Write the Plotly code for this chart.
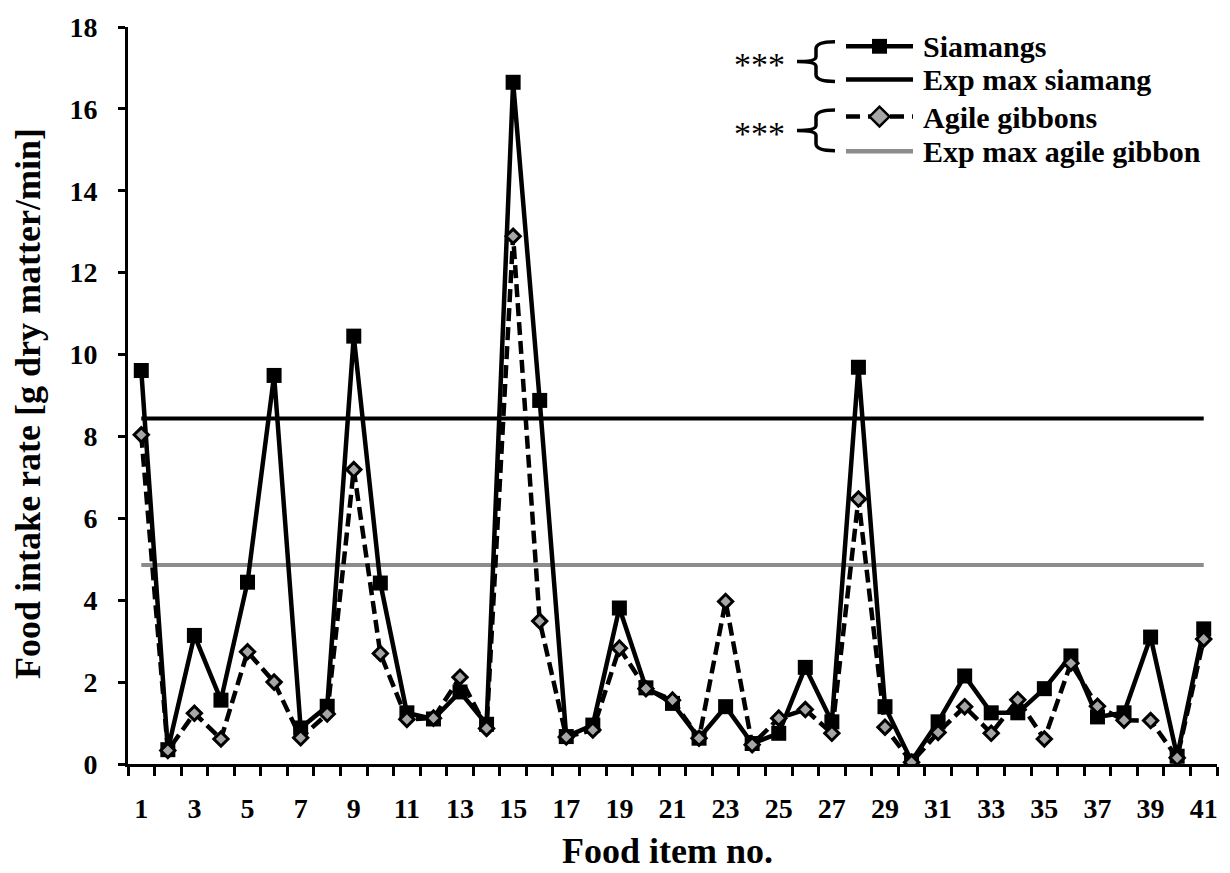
import plotly.graph_objects as go

# Food items 1..41
items = list(range(1, 42))

# Mean food intake rate (g dry matter / min) per food item
siamangs = [9.61, 0.35, 3.14, 1.56, 4.44, 9.49, 0.88, 1.41, 10.45, 4.42,
            1.25, 1.10, 1.76, 0.97, 16.65, 8.88, 0.67, 0.95, 3.81, 1.86,
            1.48, 0.63, 1.40, 0.50, 0.75, 2.36, 1.03, 9.69, 1.40, 0.07,
            1.03, 2.15, 1.25, 1.25, 1.84, 2.64, 1.15, 1.25, 3.10, 0.19, 3.30]
agile_gibbons = [8.04, 0.33, 1.24, 0.61, 2.74, 2.00, 0.64, 1.22, 7.19, 2.70,
                 1.09, 1.12, 2.12, 0.87, 12.89, 3.49, 0.66, 0.83, 2.83, 1.84,
                 1.56, 0.63, 3.97, 0.47, 1.12, 1.33, 0.75, 6.47, 0.90, 0.04,
                 0.77, 1.40, 0.75, 1.57, 0.61, 2.46, 1.41, 1.07, 1.06, 0.15, 3.05]

# Expected maximum intake rates
exp_max_siamang = 8.44
exp_max_agile_gibbon = 4.86

series_names = ["Siamangs", "Exp max siamang", "Agile gibbons", "Exp max agile gibbon"]
x_tick_labels = [str(i) for i in range(1, 42, 2)]
y_ticks = list(range(0, 19, 2))
x_title = "Food item no."
y_title = "Food intake rate [g dry matter/min]"

FONT = '"Liberation Serif", "Times New Roman", Times, serif'
GRAY_FILL = "#A6A6A6"
GRAY_LINE = "#8C8C8C"

W, H = 1230, 873
ML, MR, MT, MB = 128, 13, 19, 109
PW, PH = W - ML - MR, H - MT - MB


def px(xp):
    return (xp - ML) / PW


def py(yp):
    return (H - MB - yp) / PH


fig = go.Figure()

# expected maxima (drawn underneath the data series)
fig.add_trace(go.Scatter(
    x=[items[0], items[-1]], y=[exp_max_siamang] * 2, mode="lines",
    line=dict(color="black", width=4), name=series_names[1], showlegend=False))
fig.add_trace(go.Scatter(
    x=[items[0], items[-1]], y=[exp_max_agile_gibbon] * 2, mode="lines",
    line=dict(color=GRAY_LINE, width=4), name=series_names[3], showlegend=False))

fig.add_trace(go.Scatter(
    x=items, y=siamangs, mode="lines+markers", name=series_names[0],
    line=dict(color="black", width=4.5),
    marker=dict(symbol="square", size=15, color="black"),
    showlegend=False))
fig.add_trace(go.Scatter(
    x=items, y=agile_gibbons, mode="lines+markers", name=series_names[2],
    line=dict(color="black", width=4.5, dash="13px,6px"),
    marker=dict(symbol="diamond", size=11, color=GRAY_FILL,
                line=dict(color="black", width=3)),
    showlegend=False))

shapes = []
annotations = []

# hand-built legend
leg_x0, leg_x1 = 846, 913
leg_mid = (leg_x0 + leg_x1) / 2
rows_y = [38.5, 72, 109.5, 144.5]
text_y = [39, 72, 110, 145]

shapes.append(dict(type="line", xref="paper", yref="paper",
                   x0=px(leg_x0), x1=px(leg_x1), y0=py(rows_y[0]), y1=py(rows_y[0]),
                   line=dict(color="black", width=4.5)))
shapes.append(dict(type="rect", xref="paper", yref="paper",
                   x0=px(leg_mid - 7.5), x1=px(leg_mid + 7.5),
                   y0=py(rows_y[0] + 7.5), y1=py(rows_y[0] - 7.5),
                   fillcolor="black", line=dict(width=0)))
shapes.append(dict(type="line", xref="paper", yref="paper",
                   x0=px(leg_x0), x1=px(leg_x1), y0=py(rows_y[1]), y1=py(rows_y[1]),
                   line=dict(color="black", width=4.5)))
shapes.append(dict(type="line", xref="paper", yref="paper",
                   x0=px(leg_x0), x1=px(leg_x1), y0=py(rows_y[2]), y1=py(rows_y[2]),
                   line=dict(color="black", width=4.5, dash="14px,8px")))
d = 10
yd = rows_y[2]
shapes.append(dict(type="path", xref="paper", yref="paper",
                   path=(f"M{px(leg_mid - d)},{py(yd)} L{px(leg_mid)},{py(yd - d)} "
                         f"L{px(leg_mid + d)},{py(yd)} L{px(leg_mid)},{py(yd + d)} Z"),
                   fillcolor=GRAY_FILL, line=dict(color="black", width=2.5)))
shapes.append(dict(type="line", xref="paper", yref="paper",
                   x0=px(leg_x0), x1=px(leg_x1), y0=py(rows_y[3]), y1=py(rows_y[3]),
                   line=dict(color=GRAY_LINE, width=4.5)))

for name, ty in zip(series_names, text_y):
    annotations.append(dict(xref="paper", yref="paper", x=px(921), y=py(ty),
                            xanchor="left", yanchor="middle", showarrow=False,
                            text=name, font=dict(family=FONT, size=30, color="black",
                                                 weight="bold")))


def brace(top, bottom, xr=835, xv=816, xt=797):
    mid = (top + bottom) / 2
    pts = [
        f"M{px(xr)},{py(top)}",
        f"Q{px(xv)},{py(top)} {px(xv)},{py(top + 7)}",
        f"L{px(xv)},{py(mid - 5)}",
        f"Q{px(xv)},{py(mid)} {px(xt)},{py(mid)}",
        f"Q{px(xv)},{py(mid)} {px(xv)},{py(mid + 5)}",
        f"L{px(xv)},{py(bottom - 7)}",
        f"Q{px(xv)},{py(bottom)} {px(xr)},{py(bottom)}",
    ]
    return dict(type="path", xref="paper", yref="paper", path=" ".join(pts),
                line=dict(color="black", width=3.5))


shapes.append(brace(34, 74))
shapes.append(brace(103, 144))
for ty in (57, 127):
    annotations.append(dict(xref="paper", yref="paper", x=px(759), y=py(ty),
                            xanchor="center", yanchor="middle", showarrow=False,
                            text="***", font=dict(family=FONT, size=34, color="black")))

# axis titles
annotations.append(dict(xref="paper", yref="paper", x=px(667), y=py(851.5),
                        xanchor="center", yanchor="middle", showarrow=False,
                        text=x_title,
                        font=dict(family=FONT, size=36, color="black", weight="bold")))
annotations.append(dict(xref="paper", yref="paper", x=px(28.5), y=py(399.5),
                        xanchor="center", yanchor="middle", showarrow=False,
                        textangle=-90, text=y_title,
                        font=dict(family=FONT, size=36, color="black", weight="bold")))

fig.update_layout(
    width=W, height=H,
    margin=dict(l=ML, r=MR, t=MT, b=MB, pad=0),
    paper_bgcolor="white", plot_bgcolor="white",
    font=dict(family=FONT, color="black"),
    shapes=shapes, annotations=annotations,
    showlegend=False,
)

fig.update_xaxes(
    range=[0.5, 41.5], tickmode="array",
    tickvals=list(range(1, 42, 2)), ticktext=x_tick_labels,
    ticks="outside", ticklen=9, tickcolor="rgba(0,0,0,0)", tickwidth=3,
    ticklabelstandoff=8,
    minor=dict(ticks="outside", tick0=0.5, dtick=1, ticklen=9, tickwidth=3,
               tickcolor="black"),
    showline=True, linecolor="black", linewidth=3,
    showgrid=False, zeroline=False,
    tickfont=dict(family=FONT, size=28, color="black", weight="bold"),
)
fig.update_yaxes(
    range=[0, 18], tickmode="array", tickvals=y_ticks,
    ticks="outside", ticklen=7, tickwidth=3, tickcolor="black",
    ticklabelstandoff=15,
    showline=True, linecolor="black", linewidth=3,
    showgrid=False, zeroline=False,
    tickfont=dict(family=FONT, size=28, color="black", weight="bold"),
)

fig.write_html("out.html")
